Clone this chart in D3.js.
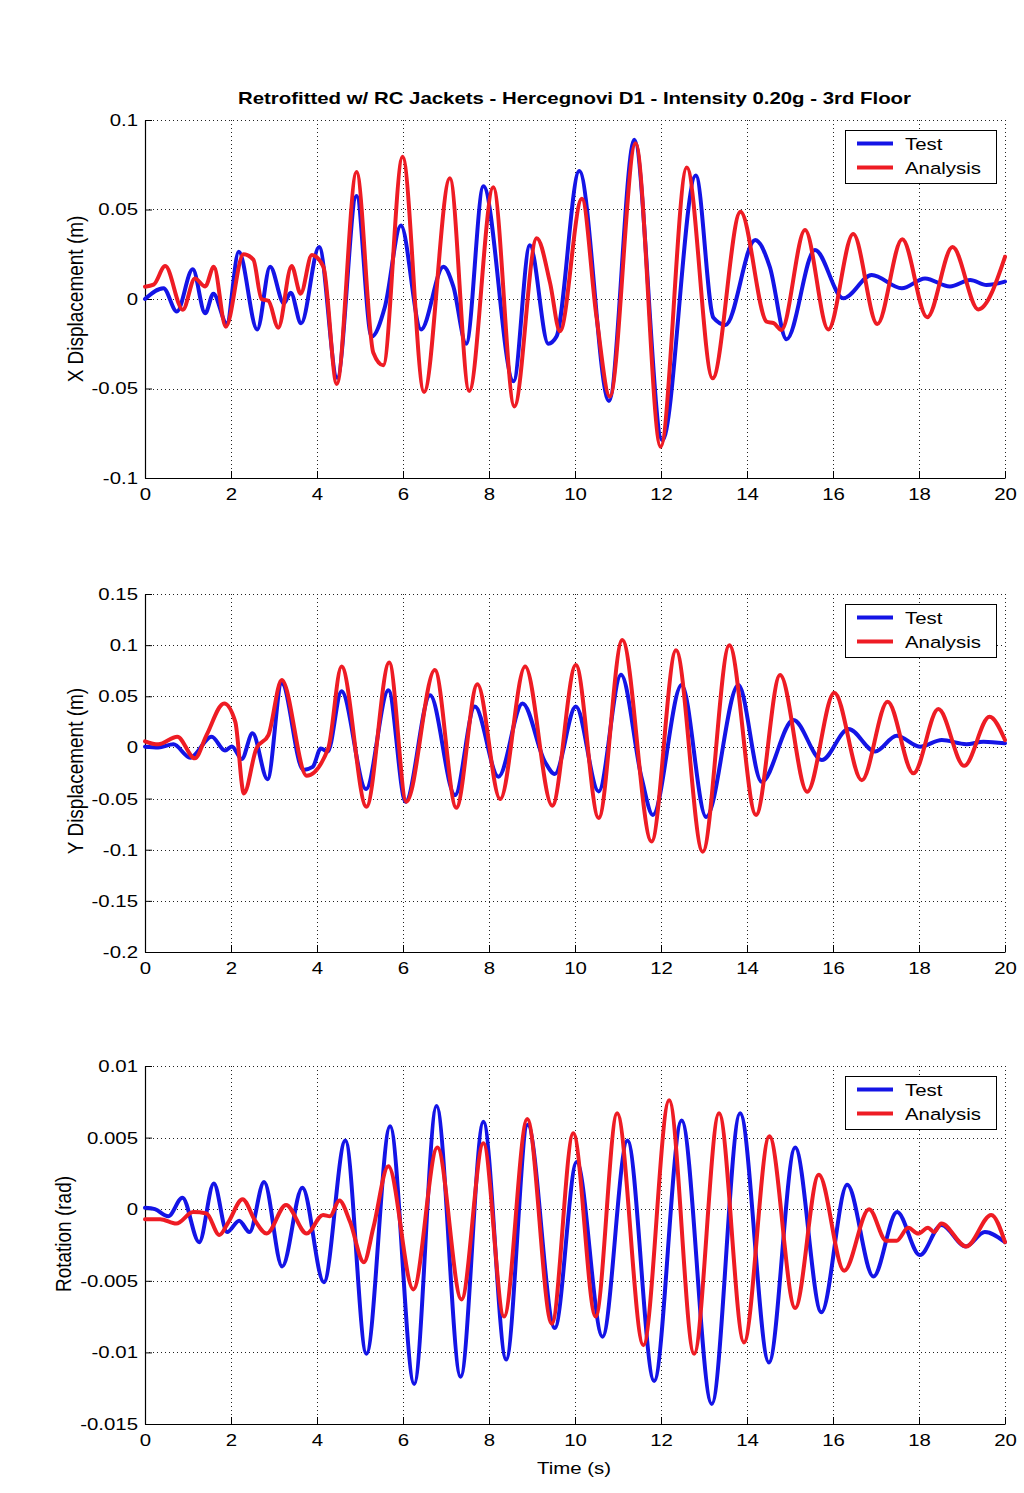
<!DOCTYPE html>
<html>
<head>
<meta charset="utf-8">
<script src="https://cdn.jsdelivr.net/npm/d3@7"></script>
<style>
  html, body { margin: 0; padding: 0; background: #fff; }
  svg { display: block; font-family: "Liberation Sans", Arial, sans-serif; }
</style>
</head>
<body>
<svg id="chart" width="1024" height="1493"></svg>
<script>
// ---------- DATA ----------
const titleText = "Retrofitted w/ RC Jackets - Hercegnovi D1 - Intensity 0.20g - 3rd Floor";
const xLabelText = "Time (s)";
const seriesNames = ["Test", "Analysis"];

const timeTicks = [0, 2, 4, 6, 8, 10, 12, 14, 16, 18, 20];
const timeTickLabels = ["0", "2", "4", "6", "8", "10", "12", "14", "16", "18", "20"];

const xDispTicks = [-0.1, -0.05, 0, 0.05, 0.1];
const xDispTickLabels = ["-0.1", "-0.05", "0", "0.05", "0.1"];
const yDispTicks = [-0.2, -0.15, -0.1, -0.05, 0, 0.05, 0.1, 0.15];
const yDispTickLabels = ["-0.2", "-0.15", "-0.1", "-0.05", "0", "0.05", "0.1", "0.15"];
const rotTicks = [-0.015, -0.01, -0.005, 0, 0.005, 0.01];
const rotTickLabels = ["-0.015", "-0.01", "-0.005", "0", "0.005", "0.01"];

const panelLabels = ["X Displacement (m)", "Y Displacement (m)", "Rotation (rad)"];

// [time (s), value]
const xDispTest = [[0,0.0],[0.43,0.006],[0.74,-0.007],[1.11,0.0166],[1.40,-0.008],[1.59,0.003],[1.90,-0.0136],[2.18,0.0264],[2.61,-0.017],[2.91,0.018],[3.23,-0.0024],[3.39,0.0035],[3.63,-0.0136],[4.05,0.029],[4.47,-0.044],[4.92,0.0575],[5.27,-0.021],[5.58,-0.0043],[5.95,0.041],[6.42,-0.017],[6.94,0.018],[7.17,0.007],[7.47,-0.025],[7.87,0.063],[8.57,-0.046],[8.95,0.030],[9.38,-0.025],[9.57,-0.021],[10.10,0.0715],[10.79,-0.057],[11.38,0.089],[12.03,-0.079],[12.81,0.069],[13.22,-0.0105],[13.50,-0.0145],[14.19,0.033],[14.53,0.018],[14.92,-0.0225],[15.58,0.0274],[16.24,0.0004],[16.90,0.0134],[17.60,0.006],[18.14,0.0115],[18.72,0.007],[19.19,0.0106],[19.57,0.0078],[20,0.0097]];
const xDispAnalysis = [[0,0.0069],[0.2,0.008],[0.47,0.0184],[0.88,-0.006],[1.16,0.0115],[1.40,0.007],[1.60,0.018],[1.88,-0.0155],[2.29,0.025],[2.52,0.022],[2.71,0.0],[2.87,-0.001],[3.10,-0.016],[3.41,0.0184],[3.62,0.003],[3.88,0.0246],[4.15,0.018],[4.46,-0.0475],[4.92,0.071],[5.31,-0.030],[5.54,-0.037],[5.99,0.0795],[6.49,-0.052],[7.09,0.0674],[7.54,-0.0514],[8.10,0.0624],[8.59,-0.060],[9.11,0.034],[9.42,0.009],[9.65,-0.018],[10.16,0.056],[10.50,-0.010],[10.81,-0.0545],[11.41,0.087],[11.99,-0.0825],[12.60,0.0735],[13.20,-0.0443],[13.85,0.0488],[14.46,-0.0127],[14.62,-0.0135],[14.80,-0.0173],[15.35,0.0385],[15.89,-0.017],[16.47,0.0363],[17.03,-0.014],[17.61,0.0334],[18.19,-0.0102],[18.78,0.029],[19.38,-0.0058],[20,0.0236]];

const yDispTest = [[0,0.0007],[0.31,0.0],[0.66,0.003],[1.05,-0.010],[1.55,0.0105],[1.86,-0.003],[2.02,0.001],[2.25,-0.0113],[2.50,0.0138],[2.85,-0.031],[3.18,0.0627],[3.68,-0.022],[3.90,-0.019],[4.09,-0.001],[4.25,-0.004],[4.57,0.055],[5.14,-0.0407],[5.66,0.056],[6.06,-0.053],[6.63,0.051],[7.21,-0.0466],[7.67,0.040],[8.22,-0.0286],[8.78,0.043],[9.30,-0.014],[9.53,-0.026],[10.02,0.040],[10.55,-0.043],[11.07,0.071],[11.55,-0.030],[11.81,-0.066],[12.48,0.061],[13.05,-0.068],[13.80,0.061],[14.34,-0.0335],[15.08,0.0268],[15.74,-0.0123],[16.36,0.018],[16.98,-0.004],[17.48,0.0114],[18.02,0.0007],[18.53,0.0072],[19.10,0.0032],[19.50,0.0056],[20,0.004]];
const yDispAnalysis = [[0,0.006],[0.31,0.003],[0.75,0.0105],[1.16,-0.0107],[1.43,0.012],[1.84,0.043],[2.10,0.025],[2.30,-0.045],[2.59,-0.001],[2.87,0.012],[3.18,0.066],[3.76,-0.0277],[4.26,-0.001],[4.57,0.079],[5.15,-0.058],[5.68,0.083],[6.08,-0.053],[6.74,0.0757],[7.24,-0.059],[7.73,0.0617],[8.26,-0.0505],[8.84,0.079],[9.47,-0.057],[10.02,0.0806],[10.55,-0.069],[11.10,0.105],[11.78,-0.092],[12.35,0.095],[12.97,-0.102],[13.59,0.100],[14.21,-0.066],[14.77,0.0708],[15.40,-0.0433],[16.03,0.0535],[16.67,-0.032],[17.27,0.0447],[17.87,-0.0253],[18.45,0.0375],[19.05,-0.018],[19.64,0.030],[20,0.0072]];

const rotTest = [[0,0.0001],[0.23,0.0],[0.54,-0.0005],[0.87,0.0008],[1.26,-0.0023],[1.60,0.0018],[1.91,-0.0016],[2.19,-0.0008],[2.43,-0.0016],[2.77,0.0019],[3.19,-0.004],[3.66,0.0015],[4.16,-0.0051],[4.66,0.0048],[5.15,-0.0101],[5.70,0.0058],[6.26,-0.0122],[6.78,0.0072],[7.34,-0.0117],[7.87,0.0061],[8.40,-0.0105],[8.90,0.0059],[9.53,-0.0083],[10.04,0.0033],[10.64,-0.0089],[11.22,0.0048],[11.84,-0.0120],[12.48,0.0062],[13.18,-0.0136],[13.84,0.0067],[14.51,-0.0107],[15.12,0.0043],[15.73,-0.0072],[16.33,0.0017],[16.94,-0.0047],[17.49,-0.0002],[18.02,-0.0032],[18.52,-0.0011],[19.09,-0.0026],[19.53,-0.0016],[20,-0.0023]];
const rotAnalysis = [[0,-0.0007],[0.35,-0.0007],[0.73,-0.001],[1.12,-0.0002],[1.43,-0.0003],[1.73,-0.0018],[1.94,-0.0009],[2.27,0.0007],[2.56,-0.0008],[2.83,-0.0017],[3.28,0.0003],[3.76,-0.0017],[4.14,-0.0004],[4.30,-0.0005],[4.52,0.0006],[4.77,-0.0009],[5.09,-0.0037],[5.31,-0.0013],[5.66,0.003],[6.24,-0.0056],[6.80,0.0043],[7.36,-0.0063],[7.87,0.0046],[8.35,-0.0075],[8.89,0.0063],[9.46,-0.008],[9.96,0.0053],[10.48,-0.0075],[10.98,0.0067],[11.59,-0.0095],[12.19,0.0076],[12.77,-0.0101],[13.35,0.0067],[13.93,-0.0093],[14.52,0.0051],[15.12,-0.0069],[15.67,0.0024],[16.26,-0.0043],[16.84,0.0],[17.24,-0.0022],[17.48,-0.0022],[17.75,-0.0013],[17.98,-0.0017],[18.21,-0.0013],[18.35,-0.0016],[18.52,-0.001],[19.10,-0.0026],[19.68,-0.0004],[20,-0.0023]];

// ---------- LAYOUT ----------
const colors = { Test: "#1414e6", Analysis: "#ee1c24" };
const plotLeft = 145, plotRight = 1005;
const stretch = 1.2;

const panels = [
  { top: 120, bottom: 478, domain: [-0.1, 0.1], ticks: xDispTicks, tickLabels: xDispTickLabels,
    label: panelLabels[0], labelX: 75, labelY: 299, test: xDispTest, analysis: xDispAnalysis },
  { top: 594, bottom: 952, domain: [-0.2, 0.15], ticks: yDispTicks, tickLabels: yDispTickLabels,
    label: panelLabels[1], labelX: 75, labelY: 771, test: yDispTest, analysis: yDispAnalysis },
  { top: 1066, bottom: 1424, domain: [-0.015, 0.01], ticks: rotTicks, tickLabels: rotTickLabels,
    label: panelLabels[2], labelX: 63, labelY: 1234, test: rotTest, analysis: rotAnalysis }
];

const svg = d3.select("#chart");
const x = d3.scaleLinear().domain([0, 20]).range([plotLeft, plotRight]);

// Title
svg.append("text")
  .attr("x", 574.5).attr("y", 104)
  .attr("text-anchor", "middle")
  .attr("font-size", 17).attr("font-weight", "bold")
  .attr("textLength", 673).attr("lengthAdjust", "spacingAndGlyphs")
  .attr("fill", "#000")
  .text(titleText);

panels.forEach((p, i) => {
  const y = d3.scaleLinear().domain(p.domain).range([p.bottom, p.top]);
  const g = svg.append("g");

  // grid
  const grid = g.append("g").attr("stroke", "#222").attr("stroke-width", 1)
    .attr("stroke-dasharray", "1,3").attr("shape-rendering", "crispEdges");
  grid.selectAll(".gx").data(timeTicks.filter(t => t > 0)).join("line")
    .attr("x1", d => Math.round(x(d)) + 0.5).attr("x2", d => Math.round(x(d)) + 0.5)
    .attr("y1", p.top).attr("y2", p.bottom);
  grid.selectAll(".gy").data(p.ticks.filter(t => Math.abs(t - p.domain[0]) > 1e-9)).join("line")
    .attr("x1", plotLeft).attr("x2", plotRight)
    .attr("y1", d => Math.round(y(d)) + 0.5).attr("y2", d => Math.round(y(d)) + 0.5);

  // axes
  const yAxis = d3.axisLeft(y).tickValues(p.ticks)
    .tickFormat((d, k) => p.tickLabels[k]).tickSizeInner(-7).tickSizeOuter(0).tickPadding(7);
  const ya = g.append("g").attr("transform", `translate(${plotLeft},0)`).call(yAxis);
  const xAxis = d3.axisBottom(x).tickValues(timeTicks)
    .tickFormat((d, k) => timeTickLabels[k]).tickSizeInner(-7).tickSizeOuter(0).tickPadding(10);
  const xa = g.append("g").attr("transform", `translate(0,${p.bottom})`).call(xAxis);

  [ya, xa].forEach(a => {
    a.select(".domain").attr("stroke", "#000").attr("stroke-width", 1.2);
    a.selectAll(".tick line").attr("stroke", "#000").attr("stroke-width", 1);
    a.selectAll(".tick text").attr("font-size", 17).attr("fill", "#000")
      .attr("font-family", "'Liberation Sans', Arial, sans-serif");
  });
  ya.selectAll(".tick text").attr("x", -7 / stretch).attr("transform", `scale(${stretch},1)`);
  xa.selectAll(".tick text").attr("transform", `scale(${stretch},1)`);

  // series
  const line = d3.line().x(d => x(d[0])).y(d => y(d[1])).curve(d3.curveMonotoneX);
  [["Test", p.test], ["Analysis", p.analysis]].forEach(([name, data]) => {
    g.append("path").datum(data)
      .attr("fill", "none").attr("stroke", colors[name])
      .attr("stroke-width", 4).attr("stroke-linejoin", "round").attr("stroke-linecap", "round")
      .attr("d", line);
  });

  // y label
  g.append("text")
    .attr("transform", `translate(${p.labelX},${p.labelY}) scale(${stretch},1) rotate(-90)`)
    .attr("text-anchor", "middle").attr("dy", "0.35em")
    .attr("font-size", 19).attr("fill", "#000")
    .text(p.label);

  // legend
  const lg = g.append("g").attr("transform", `translate(845,${p.top + 10})`);
  lg.append("rect").attr("x", 0.5).attr("y", 0.5).attr("width", 151).attr("height", 53)
    .attr("fill", "#fff").attr("stroke", "#000").attr("stroke-width", 1);
  seriesNames.forEach((name, k) => {
    const ly = 13.5 + k * 24;
    lg.append("line").attr("x1", 12).attr("x2", 48).attr("y1", ly).attr("y2", ly)
      .attr("stroke", colors[name]).attr("stroke-width", 4);
    lg.append("text").attr("transform", `translate(60,${ly}) scale(${stretch},1)`)
      .attr("dy", "0.36em").attr("font-size", 17).attr("fill", "#000").text(name);
  });
});

// x label
svg.append("text")
  .attr("transform", `translate(574,1474) scale(${stretch},1)`)
  .attr("text-anchor", "middle").attr("font-size", 17).attr("fill", "#000")
  .text(xLabelText);
</script>
</body>
</html>
